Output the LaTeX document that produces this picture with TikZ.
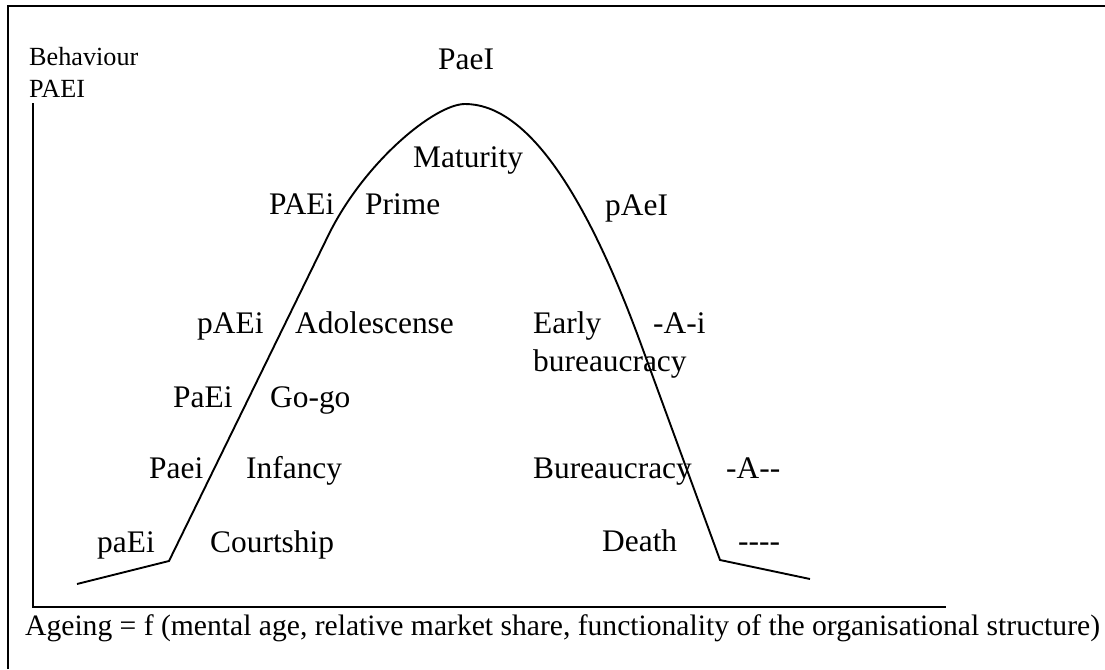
\documentclass[tikz,border=0pt]{standalone}
\usepackage{fontspec}
\setmainfont{Liberation Serif}
\begin{document}
\begin{tikzpicture}[x=1pt,y=-1pt,
  lbl/.style={inner sep=0pt, anchor=base west, font=\fontsize{31.4}{36}\selectfont},
  smalllbl/.style={inner sep=0pt, anchor=base west, font=\fontsize{26.2}{30}\selectfont},
  botlbl/.style={inner sep=0pt, anchor=base west, font=\fontsize{29.6}{34}\selectfont},
  ln/.style={line width=1.9pt, line join=miter},
  frm/.style={line width=1.9pt}]
\useasboundingbox (0,0) rectangle (1105,669);
% outer frame (only top and left edges visible)
\coordinate (ftl) at (8,6);
\coordinate (ftr) at (1105,6);
\coordinate (fbl) at (8,669);
\draw[frm] (fbl) -- (ftl) -- (ftr);
% axes
\coordinate (ytop) at (33,103);
\coordinate (orig) at (33,607);
\coordinate (xend) at (946,607);
\draw[ln] (ytop) -- (orig) -- (xend);
% life-cycle curve
\coordinate (lt) at (77,584);
\coordinate (ls) at (169,561);
\coordinate (lb) at (328,236);
\coordinate (pk) at (465,104);
\coordinate (rb) at (642,347);
\coordinate (rs) at (720,560);
\coordinate (rt) at (810,579);
\draw[ln] (lt) -- (ls) -- (lb)
  .. controls (364,162) and (435,104) .. (pk)
  .. controls (524,104) and (583,185) .. (rb)
  -- (rs) -- (rt);
% labels
\node[smalllbl] (beh) at (29,66) {Behaviour};
\node[smalllbl] (paei) at (29,97) {PAEI};
\node[lbl] (top) at (438,70) {PaeI};
\node[lbl] (mat) at (413,167) {Maturity};
\node[lbl] (PAEi) at (269,214) {PAEi};
\node[lbl] (prime) at (365,214) {Prime};
\node[lbl] (pAeI) at (605,215) {pAeI};
\node[lbl] (pAEi) at (197,333) {pAEi};
\node[lbl] (adol) at (295,333) {Adolescense};
\node[lbl] (early) at (533,333) {Early};
\node[lbl] (Ai) at (653,333) {-A-i};
\node[lbl] (bur1) at (533,371) {bureaucracy};
\node[lbl] (PaEi) at (173,407) {PaEi};
\node[lbl] (gogo) at (270,407) {Go-go};
\node[lbl] (Paei) at (149,478) {Paei};
\node[lbl] (inf) at (246,478) {Infancy};
\node[lbl] (bur2) at (533,478) {Bureaucracy};
\node[lbl] (Amm) at (726,478) {-A-{}-};
\node[lbl] (paEi) at (97,552) {paEi};
\node[lbl] (court) at (210,552) {Courtship};
\node[lbl] (death) at (602,551) {Death};
\node[lbl] (dash) at (738,551) {-{}-{}-{}-};
\node[botlbl] (age) at (25,635) {Ageing = f (mental age, relative market share, functionality of the organisational structure)};
\end{tikzpicture}
\end{document}
